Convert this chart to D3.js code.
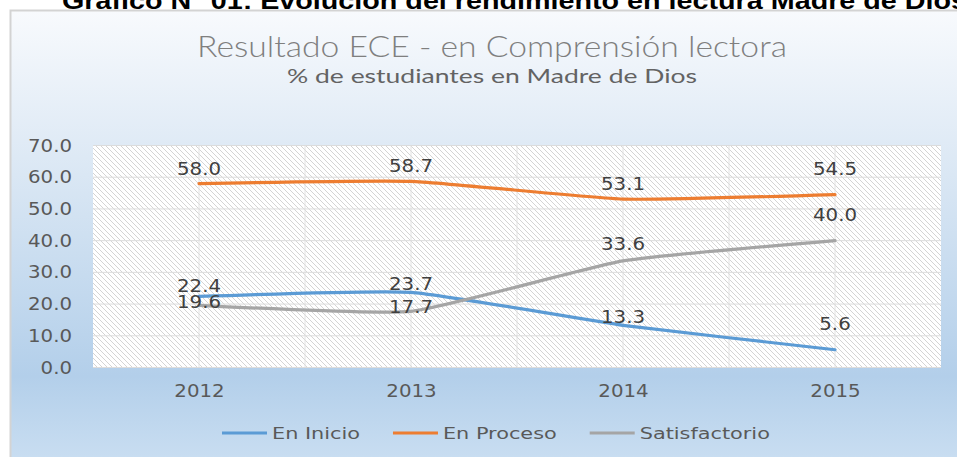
<!DOCTYPE html>
<html><head><meta charset="utf-8">
<script src="https://cdn.jsdelivr.net/npm/d3@7"></script>
<style>html,body{margin:0;padding:0;background:#fff;overflow:hidden}</style>
</head><body>
<svg id="c" width="957" height="457"></svg>
<script>
// ---- data ----
const years = ["2012", "2013", "2014", "2015"];
const enInicio = [22.4, 23.7, 13.3, 5.6];
const enProceso = [58.0, 58.7, 53.1, 54.5];
const satisfactorio = [19.6, 17.7, 33.6, 40.0];
const seriesNames = ["En Inicio", "En Proceso", "Satisfactorio"];
const yTicks = [0, 10, 20, 30, 40, 50, 60, 70];
const headerText = "Gráfico N° 01: Evolución del rendimiento en lectura Madre de Dios";
const titleText = "Resultado ECE - en Comprensión lectora";
const subtitleText = "% de estudiantes en Madre de Dios";

// ---- style / layout ----
const colors = ["#5b9bd5", "#ed7d31", "#a5a5a5"];
const labelDy = [[-4.5, -2.4, -2.6, -19.7], [-9, -9.4, -8.8, -19.5], [2.3, 2, -10.5, -19.5]];
const W = 957, H = 457;
const plot = {x0: 93, x1: 941, y0: 145.5, y1: 367.5};

const svg = d3.select("#c");
const defs = svg.append("defs");
const bg = defs.append("linearGradient").attr("id", "bg").attr("x1", 0).attr("y1", 0).attr("x2", 0).attr("y2", 1);
[[0, "#f8fafd"], [0.36, "#dae7f4"], [0.8, "#b3cfea"], [1, "#cbdff2"]].forEach(s =>
  bg.append("stop").attr("offset", s[0]).attr("stop-color", s[1]));
const pat = defs.append("pattern").attr("id", "hatch").attr("patternUnits", "userSpaceOnUse")
  .attr("width", 5).attr("height", 5);
pat.append("rect").attr("width", 5).attr("height", 5).attr("fill", "#ffffff");
pat.append("path").attr("d", "M0,0L5,5M-1,4L1,6M4,-1L6,1").attr("stroke", "#d4d4d4").attr("stroke-width", 1);

function stretch(sel, k) {
  sel.each(function () {
    const w = this.getComputedTextLength();
    this.setAttribute("textLength", w * k);
    this.setAttribute("lengthAdjust", "spacingAndGlyphs");
  });
}

// chart box
svg.append("rect").attr("x", 10.5).attr("y", 10.5).attr("width", W).attr("height", H)
  .attr("fill", "url(#bg)").attr("stroke", "#d3d3d3").attr("stroke-width", 2);

// header (clipped at top)
svg.append("text").attr("x", 62).attr("y", 9).text(headerText)
  .attr("font-family", "Liberation Sans, Arial, sans-serif").attr("font-weight", "bold")
  .attr("font-size", 24).attr("fill", "#000")
  .attr("textLength", 905).attr("lengthAdjust", "spacingAndGlyphs");

// titles
svg.append("text").attr("x", 492).attr("y", 57).attr("text-anchor", "middle").text(titleText)
  .attr("font-family", "Lato, sans-serif").attr("font-weight", 300).attr("font-size", 29)
  .attr("fill", "#7f7f7f").attr("textLength", 590).attr("lengthAdjust", "spacingAndGlyphs");
svg.append("text").attr("x", 492).attr("y", 83).attr("text-anchor", "middle").text(subtitleText)
  .attr("font-family", "Lato, sans-serif").attr("font-weight", 400).attr("font-size", 19)
  .attr("fill", "#636363").attr("textLength", 410).attr("lengthAdjust", "spacingAndGlyphs");

// scales
const x = d3.scalePoint().domain(years).range([plot.x0, plot.x1]).padding(0.5);
const y = d3.scaleLinear().domain([0, 70]).range([plot.y1, plot.y0]);

// plot area
svg.append("rect").attr("x", plot.x0).attr("y", plot.y0).attr("width", plot.x1 - plot.x0)
  .attr("height", plot.y1 - plot.y0).attr("fill", "url(#hatch)");

// gridlines
const step = x.step();
const vlines = [];
years.forEach(yr => { vlines.push(x(yr) - step / 2); vlines.push(x(yr)); });
svg.append("g").selectAll("line").data(vlines.filter(v => v > plot.x0 + 1)).join("line")
  .attr("x1", d => d).attr("x2", d => d).attr("y1", plot.y0).attr("y2", plot.y1)
  .attr("stroke", "#e2e2e2").attr("stroke-width", 1);
svg.append("g").selectAll("line").data(yTicks).join("line")
  .attr("x1", plot.x0).attr("x2", plot.x1).attr("y1", d => y(d)).attr("y2", d => y(d))
  .attr("stroke", "#dcdcdc").attr("stroke-width", 1);

// axes
const fontTick = "DejaVu Sans, Verdana, sans-serif";
const ya = svg.append("g").attr("transform", `translate(${plot.x0},0)`)
  .call(d3.axisLeft(y).tickValues(yTicks).tickFormat(d3.format(".1f")).tickSize(0).tickPadding(21));
ya.select(".domain").remove();
ya.selectAll("text").attr("font-family", fontTick).attr("font-size", 17.5).attr("fill", "#595959");
stretch(ya.selectAll("text"), 1.13);
const xa = svg.append("g").attr("transform", `translate(0,${plot.y1})`)
  .call(d3.axisBottom(x).tickSize(0).tickPadding(17));
xa.select(".domain").remove();
xa.selectAll("text").attr("font-family", fontTick).attr("font-size", 17.5).attr("fill", "#595959");
stretch(xa.selectAll("text"), 1.13);

// lines
const seriesData = [enInicio, enProceso, satisfactorio];
const line = d3.line().x((d, i) => x(years[i])).y(d => y(d)).curve(d3.curveCardinal.tension(0.55));
seriesData.forEach((vals, si) => {
  svg.append("path").attr("d", line(vals)).attr("fill", "none").attr("stroke", colors[si])
    .attr("stroke-width", 3.2).attr("stroke-linecap", "round").attr("stroke-linejoin", "round");
});
// labels
seriesData.forEach((vals, si) => {
  const g = svg.append("g");
  const t = g.selectAll("text").data(vals).join("text")
    .attr("x", (d, i) => x(years[i])).attr("y", (d, i) => y(d) + labelDy[si][i])
    .attr("text-anchor", "middle").attr("font-family", fontTick).attr("font-size", 17.5)
    .attr("fill", "#404040").text(d => d3.format(".1f")(d));
  stretch(t, 1.13);
});

// legend
let lx = 222;
const ly = 433;
seriesNames.forEach((name, si) => {
  svg.append("line").attr("x1", lx).attr("x2", lx + 45).attr("y1", ly).attr("y2", ly)
    .attr("stroke", colors[si]).attr("stroke-width", 3.2);
  const t = svg.append("text").attr("x", lx + 50).attr("y", ly).attr("dy", "0.35em").text(name)
    .attr("font-family", fontTick).attr("font-size", 16).attr("fill", "#595959");
  const w0 = t.node().getComputedTextLength();
  stretch(t, 1.3);
  lx += 50 + w0 * 1.3 + 33;
});
</script>
</body></html>
